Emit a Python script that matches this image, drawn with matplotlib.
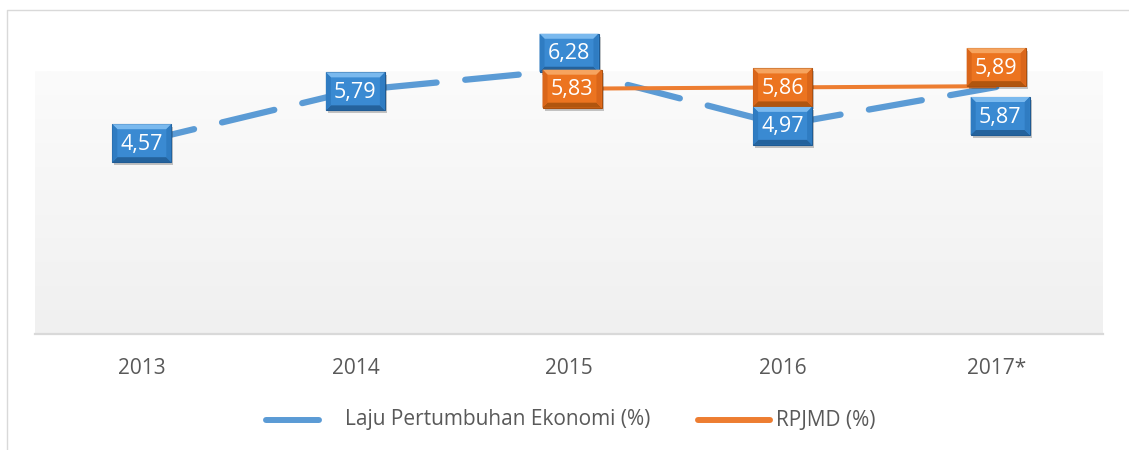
import matplotlib
matplotlib.use('Agg')
import matplotlib.pyplot as plt
import numpy as np
from matplotlib.patches import Rectangle, Polygon
from matplotlib.lines import Line2D
from matplotlib.colors import LinearSegmentedColormap

# ---- data ----
years = ['2013', '2014', '2015', '2016', '2017*']
growth = [4.57, 5.79, 6.28, 4.97, 5.87]
rpjmd_years = ['2015', '2016', '2017*']
rpjmd = [5.83, 5.86, 5.89]
growth_name = 'Laju Pertumbuhan Ekonomi (%)'
rpjmd_name = 'RPJMD (%)'

# ---- style ----
W, H = 1129, 450
plt.rcParams['font.family'] = ['Open Sans', 'DejaVu Sans']
BLUE = '#5b9bd5'
ORANGE = '#ed7d31'
TXT = '#595959'
# label offsets in pixels (dx, dy up)
growth_off = [(0, -1.5), (0, -1), (0, 17), (0, -1), (4, -29)]
rpjmd_off = [(3, 0), (0, 0), (0, 19)]

fig = plt.figure(figsize=(W / 100, H / 100), dpi=100)
ax = fig.add_axes([35 / W, 1 - 334 / H, (1103 - 35) / W, (334 - 10) / H])
ax.set_xlim(-0.5, len(years) - 0.5)
ax.set_ylim(0, 7.70)

# gradient plot-area fill (gray at bottom, near-white at top)
grad = np.linspace(0, 1, 256).reshape(-1, 1)
cmap = LinearSegmentedColormap.from_list('g', ['#f0f0f0', '#fbfbfb'])
ax.imshow(grad, extent=(-0.5, len(years) - 0.5, 0, 6.25), cmap=cmap,
          aspect='auto', origin='lower', zorder=0)

xg = np.arange(len(years))
xr = [years.index(y) for y in rpjmd_years]

ax.plot(xg, growth, color=BLUE, lw=4.5, linestyle=(0, (8.6, 4.6)),
        dash_capstyle='round', zorder=2)
ax.plot(xr, rpjmd, color=ORANGE, lw=2.9, solid_capstyle='butt', zorder=3)

for s in ['top', 'left', 'right']:
    ax.spines[s].set_visible(False)
ax.spines['bottom'].set_color('#d9d9d9')
ax.spines['bottom'].set_linewidth(1.6)
ax.set_yticks([])
ax.set_xticks(xg)
ax.set_xticklabels(years, fontsize=15, color=TXT)
ax.tick_params(axis='x', length=0, pad=17)

fig.canvas.draw()


def box(xv, yv, off, text, face, top, bottom, side, edge):
    px, py = ax.transData.transform((xv, yv))
    cx, cy = px + off[0], py + off[1]
    w, h, b = 59, 38, 5
    x0, y0, x1, y1 = cx - w / 2, cy - h / 2, cx + w / 2, cy + h / 2
    # shadow
    fig.patches.append(Rectangle((x0 + 2, y0 - 3), w, h, transform=None,
                                 facecolor='black', alpha=0.22, lw=0, zorder=5))
    fig.patches.append(Rectangle((x0, y0), w, h, transform=None,
                                 facecolor=face, edgecolor=edge, lw=0.8, zorder=6))
    polys = [
        ([(x0, y1), (x1, y1), (x1 - b, y1 - b), (x0 + b, y1 - b)], top),
        ([(x0, y0), (x1, y0), (x1 - b, y0 + b), (x0 + b, y0 + b)], bottom),
        ([(x0, y0), (x0, y1), (x0 + b, y1 - b), (x0 + b, y0 + b)], side),
        ([(x1, y0), (x1, y1), (x1 - b, y1 - b), (x1 - b, y0 + b)], side),
    ]
    for pts, c in polys:
        fig.patches.append(Polygon(pts, closed=True, transform=None,
                                   facecolor=c, lw=0, zorder=7))
    fig.text(cx / W, (cy - 1) / H, text, color='white', fontsize=15.5,
             ha='center', va='center', zorder=8)


for i, v in enumerate(growth):
    box(xg[i], v, growth_off[i], f'{v:.2f}'.replace('.', ','),
        '#3a8ad2', '#7ab9ee', '#24629c', '#2f7cc2', '#1f5a92')
for i, v in enumerate(rpjmd):
    box(xr[i], v, rpjmd_off[i], f'{v:.2f}'.replace('.', ','),
        '#ec7420', '#f6a45f', '#b0550f', '#da661a', '#a94f10')

# legend (manual)
ly = H - 420
fig.add_artist(Line2D([266 / W, 319 / W], [ly / H, ly / H], color=BLUE, lw=4.3,
                      solid_capstyle='round'))
fig.text(345 / W, ly / H, growth_name, color=TXT, fontsize=15, ha='left', va='center')
fig.add_artist(Line2D([698 / W, 770 / W], [ly / H, ly / H], color=ORANGE, lw=4.3,
                      solid_capstyle='round'))
fig.text(776 / W, ly / H, rpjmd_name, color=TXT, fontsize=15, ha='left', va='center')

# outer border
fig.add_artist(Line2D([6.5 / W, 6.5 / W, 1.0], [0, 1 - 9.5 / H, 1 - 9.5 / H],
                      color='#d9d9d9', lw=1))

fig.savefig('out.png', dpi=100)
